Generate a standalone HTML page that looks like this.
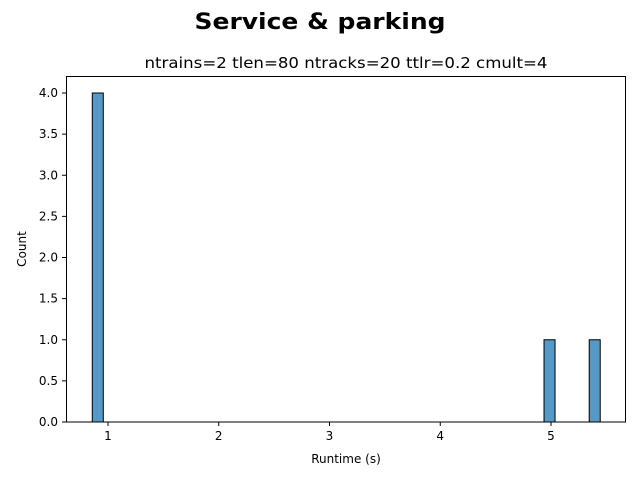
<!DOCTYPE html>
<html><head><meta charset="utf-8"><style>
body{margin:0;background:#fff;font-family:"DejaVu Sans","Liberation Sans",sans-serif}
</style></head><body>
<svg id="c" width="640" height="480" xmlns="http://www.w3.org/2000/svg" font-family="DejaVu Sans, Liberation Sans, sans-serif">
<text x="320" y="29" text-anchor="middle" font-size="22" font-weight="bold" textLength="251" lengthAdjust="spacingAndGlyphs">Service &amp; parking</text>
<text x="346" y="68" text-anchor="middle" font-size="15.5" textLength="403" lengthAdjust="spacingAndGlyphs">ntrains=2 tlen=80 ntracks=20 ttlr=0.2 cmult=4</text>
<g id="bars"></g>
<g id="ticks"></g>
<rect x="66.5" y="76.5" width="559" height="345.5" fill="none" stroke="#000" stroke-width="1"/>
<text x="346" y="463" text-anchor="middle" font-size="12">Runtime (s)</text>
<text transform="translate(26,249) rotate(-90)" text-anchor="middle" font-size="12">Count</text>
</svg>
<script>
const binStarts=[0.858,4.937,5.345];
const binWidth=0.0995;
const counts=[4,1,1];
const xTicks=[1,2,3,4,5];
const yTicks=[0,0.5,1.0,1.5,2.0,2.5,3.0,3.5,4.0];
const ns="http://www.w3.org/2000/svg";
function sx(v){return 108+(v-1)*110.75;}
function sy(v){return 422-v*82.25;}
const bars=document.getElementById('bars'),ticks=document.getElementById('ticks');
binStarts.forEach((b,i)=>{
 const r=document.createElementNS(ns,'rect');
 r.setAttribute('x',sx(b));r.setAttribute('width',sx(b+binWidth)-sx(b));
 r.setAttribute('y',sy(counts[i]));r.setAttribute('height',sy(0)-sy(counts[i]));
 r.setAttribute('fill','#5799c6');r.setAttribute('stroke','#000');r.setAttribute('stroke-width','1');
 
 
 bars.appendChild(r);
});
xTicks.forEach(t=>{
 const x=sx(t);
 const l=document.createElementNS(ns,'line');
 l.setAttribute('x1',x);l.setAttribute('x2',x);l.setAttribute('y1',422);l.setAttribute('y2',426);l.setAttribute('stroke','#000');
 
 
 ticks.appendChild(l);
 const tx=document.createElementNS(ns,'text');
 tx.setAttribute('x',x);tx.setAttribute('y',440);tx.setAttribute('text-anchor','middle');tx.setAttribute('font-size','12');
 tx.textContent=t;
 
 
 ticks.appendChild(tx);
});
yTicks.forEach(t=>{
 const y=sy(t);
 const l=document.createElementNS(ns,'line');
 l.setAttribute('x1',62);l.setAttribute('x2',66.5);l.setAttribute('y1',y);l.setAttribute('y2',y);l.setAttribute('stroke','#000');
 
 
 ticks.appendChild(l);
 const tx=document.createElementNS(ns,'text');
 tx.setAttribute('x',58);tx.setAttribute('y',y+4);tx.setAttribute('text-anchor','end');tx.setAttribute('font-size','12');
 tx.textContent=t.toFixed(1);
 
 
 ticks.appendChild(tx);
});
</script>
</body></html>
